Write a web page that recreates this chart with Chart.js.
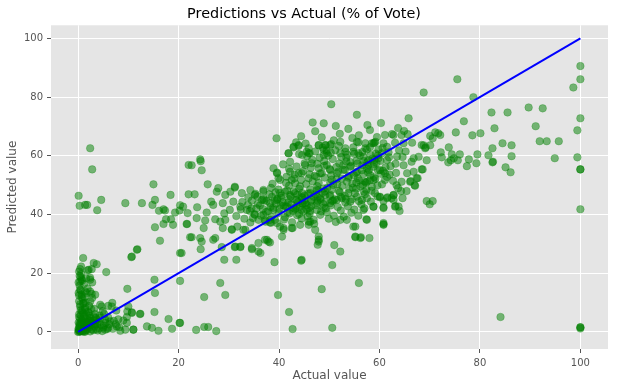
<!DOCTYPE html>
<html>
<head>
<meta charset="utf-8">
<script src="https://cdn.jsdelivr.net/npm/chart.js@4.4.0/dist/chart.umd.min.js"></script>
<style>
  html, body { margin: 0; padding: 0; background: #fff; }
  #wrap { width: 618px; height: 391px; }
</style>
</head>
<body>
<div id="wrap"><canvas id="chart" width="618" height="391"></canvas></div>
<script>
const actualValues = [
  // lado direito
  100, 100, 98.6, 75.5, 68.8, 78.7, 100, 99.4, 99.4, 100,
  100, 100, 100, 100, 100, 84.1, 89.7, 92.5, 82.3, 85.5,
  76.8, 65.8, 91.1, 82.9, 75.2, 78.5, 80.1, 91.9, 93.3, 95.7,
  84.5, 86.3, 82.5, 73.8, 72.2, 74.4, 76, 72.4, 79.5, 81.7,
  86.3, 94.9, 74.2, 74.8, 75.6, 73.7, 77.8, 79.3, 77.4, 82.5,
  85.1, 86.1, 69.4, 68.6, 67.6, 66.2, 67, 69.4, 70, 70.6,
  60.8, 64.6, 63.2, 64, 62.8, 65.4, 64.3, 60.8, 60.8, 61.6,
  63.4, 71.1, 71.7, 70.1, 70.6, 68.8, 69.2, 70.1, 72.1, 82.6,
  // 55-70
  61.1, 62.8, 64.4, 65.6, 59, 60.8, 63.1, 64.8, 68.4, 69.1,
  66.8, 67.8, 66.4, 68.4, 66.8, 67.4, 66.1, 67.1, 64.4, 63.7,
  62.8, 62.4, 60.1, 59.1, 58.5, 58.8, 63.1, 63.7, 64.9, 62.5,
  58.1, 59.5, 55.9, 57.6, 60.3, 66.5, 65.2, 63.5, 61.8, 60.2,
  62.2, 64.8, 63.3, 61.5, 59.7, 58.2, 57.5, 60.5, 62.7, 65.5,
  59.3, 57.8, 56.6, 58.9, 61.2, 57.2, 56.1, 55.4, 60.6, 63.9,
  // parte de cima do meio
  50.4, 46.7, 48.9, 39.5, 44.4, 43.4, 42.9, 43.9, 48.5, 47.9,
  49.3, 50.4, 45.9, 45.5, 41.9, 44, 46.1, 48.9, 49.5, 53.2,
  55.8, 54.8, 57.5, 58.5, 59.2, 59.8, 24.3, 55.5, 53.8, 52.1,
  51.3, 54.6, 50.9, 47.2, 45.3,
  // esquerda do meio
  22.6, 24.4, 24.6, 25.8, 27.9, 27.6, 22, 23.2, 20.3, 20.9,
  23.7, 21.8, 25.6, 26.5, 26.9, 28.8, 30.3, 31.2, 29.3, 21.6,
  25, 23.6, 25.3, 27.3, 28.3, 29.3, 28.8, 30.6, 31.7, 32.9,
  34.3, 34.8, 35.9, 37.3, 38.2, 39.2, 40.2, 40.9, 40.6, 42.7,
  44.2, 45.9, 46.2, 47.2, 47.9, 47.7, 51, 54.8, 55.2, 56.3,
  58, 57.4, 60.8, 60.8, 60.1, 62.8, 63.8, 24.3, 24.6, 24.4,
  26.9, 27.3, 22.6, 28.6, 31.2, 32.3, 34.6, 35.9, 36.3, 37.6,
  38.2, 29.1, 31.5, 39.1, 44.4, 50.6, 20.3, 20.3, 28.3, 29.3,
  25.1, 39.8, 42, 42.7, 50.6, 55.9, 48.5, 20.3, 23.5, 25.1,
  25.9, 27.5,
  // nucleo denso
  42.9, 43.9, 47.9, 49.2, 50.2, 52.2, 55.5, 57.2, 58.8, 61.5,
  41.9, 42.2, 44.6, 45.9, 45.2, 46.5, 48.9, 49.5, 52.2, 53.2,
  54.8, 55.8, 56.8, 58.2, 59.8, 61.5, 38.9, 39.6, 39.9, 42.2,
  42.5, 43.9, 44.5, 47.9, 48.2, 47.5, 49.5, 50.2, 51.5, 52.8,
  54.2, 55.5, 57.5, 58.8, 60.1, 61.1, 57.1, 58.8, 61.1, 31.2,
  32.6, 34.3, 35.2, 36.9, 36.6, 38.6, 38.2, 39.6, 40.2, 41.2,
  42.2, 43.2, 43.5, 44.5, 41.6, 42.9, 44.5, 45.5, 46.5, 46.2,
  47.5, 48.2, 49.2, 50.2, 50.2, 51.5, 52.5, 53.8, 54.2, 55.5,
  56.5, 57.5, 56.8, 58.8, 61.5, 30.9, 32.3, 33.6, 35.2, 36.9,
  38.2, 39.6, 33.3, 37.2, 37.9, 40.9, 42.5, 45.9, 47.9, 47.9,
  52.2, 53.5, 55.2, 55.2, 56.2, 57.5, 60.8, 30.6, 31.3, 32.3,
  34.6, 35.9, 44.5, 52.2,
  36.2, 37.5, 38.8, 39.4, 40.1, 40.7, 41.3, 41.9, 42.4, 42.8,
  43.3, 43.7, 44.1, 44.6, 45.2, 45.8, 46.3, 46.9, 47.4, 47.8,
  48.3, 48.7, 49.2, 49.6, 50.1, 50.5, 51.1, 51.6, 52.1, 52.6,
  53.1, 53.5, 54, 54.6, 55.1, 55.7, 56.2, 56.8, 57.3, 57.9,
  35.1, 36.4, 37.8, 38.5, 39.9, 41.2, 42.1, 43.6, 44.9, 46.1,
  47.5, 48.9, 50.3, 51.7, 53.2, 54.5, 55.9, 57.1, 58.4, 59.6,
  33.8, 34.6, 35.7, 36.9, 38.1, 39.3, 40.5, 41.6, 42.9, 44.2,
  45.4, 46.7, 47.9, 49.1, 50.4, 51.8, 53.1, 54.3, 55.6, 56.9,
  38.7, 40.2, 41.5, 43.1, 44.8, 46.3, 47.6, 49, 50.7, 52.4,
  53.6, 51.2, 49.8, 48.1, 46.6, 45.1, 43.5, 42, 40.8, 39.6,
  32.4, 31.5, 30.2, 29.1, 33.1, 34.2, 35.5, 36.8, 37.2, 38.4,
  44.5, 45.7, 46.9, 48.2, 49.5, 50.9, 52.3, 53.7, 55, 56.4,
  52.5, 53.9, 55.3, 56.5, 57.8, 58.6, 59.4, 58.1, 56.7, 55.4,
  54.2, 52.8, 51.4, 50.1, 48.5, 47.1, 45.9, 44.4, 43.2, 42,
  34.5, 35.8, 37.1, 38.3, 39.7, 40.9, 42.3, 43.8, 45.1, 46.4,
  47.7, 49.1, 50.6, 51.9, 53.3, 54.7, 56, 57.4, 58.9, 60.3,
  39.1, 40.4, 41.8, 43.4, 44.7, 46, 47.3, 48.8, 50.2, 51.5,
  41, 42.6, 44, 45.5, 47, 48.4, 49.9, 51.3, 52.9, 54.4,
  55.8, 57, 58.3, 59.6, 54.9, 53.4, 52, 50.5, 49, 47.6,
  46.1, 44.6, 43, 41.4, 39.9, 38.4, 36.9, 35.3, 33.9, 32.7,
  45.6, 47.2, 48.7, 50.3, 51.9, 53.4, 55, 56.6, 58.1, 59.7,
  44, 45, 46.2, 47.6, 48.9, 50.8, 52.3, 53.8, 55.4, 56.9,
  37.4, 38.9, 40.3, 41.7, 43.2, 44.7, 46.2, 47.7, 49.3, 50.8,
  57.6, 59, 60.5, 61.9, 63.2, 64.6, 62, 60.7, 59.2, 57.7,
  // extremo esquerdo
  2.4, 2.8, 0.1, 0.3, 1.4, 1.8, 4.6, 3.8, 9.4, 12.7,
  14.8, 15.3, 15, 18.4, 22, 16.1, 17, 17.3, 15.3, 16.3,
  17.5, 18.5, 17, 18.9, 19.3, 20.2, 21.7, 22.3, 20.6, 10.6,
  11.8, 9.8, 15.2, 15.3, 15.2, 18, 20.2, 18.7, 16, 1,
  3.1, 3.7, 2.7, 2.1, 0.4, 0.5, 0.7, 0.4, 2.4, 2.8,
  5.6, 4.4, 4.7, 6, 6.8, 7.6, 9.8, 10.7, 12.3, 9,
  9.7, 7.7, 8.4, 9.4, 11, 6, 5.4, 0.4, 0.7, 0.1,
  1.7, 2.7, 2.8, 2.4, 1.1, 0.4, 1.4, 2.1, 3.4, 2.4,
  3.7, 4.4, 5.4, 6.4, 0.2, 1.9, 10.7, 11.7, 2.4, 13.7,
  14.7, 1.4, 2.4, 3.4, 6.7, 10, 10.7, 12.4, 9.7, 11,
  // perto da origem
  0, 0.2, 0.5, 0.8, 1, 1.3, 0.3, 0.6, 1.8, 2.2,
  0.1, 0.9, 1.6, 2.5, 3, 3.3, 0.4, 1.2, 2, 2.7,
  3.8, 4.2, 4.8, 0.2, 0.8, 1.5, 3.1, 4, 5.1, 5.8,
  0.6, 1.1, 1.9, 0.3, 0.7, 2.4, 3.6, 1.4, 0.1, 2.9,
  0.5, 0.2, 0.9, 1.5, 0.3, 1.2, 0.6, 1.9, 0.2, 0.4,
  0.1, 0.3, 0.6, 0.9, 1.2, 1.5, 1.8, 2.1, 2.4, 2.7,
  3, 3.4, 3.9, 4.5, 5, 5.5, 6.2, 6.9, 7.5, 8.2,
  0.2, 0.5, 0.8, 1.1, 1.4, 1.7, 2, 2.3, 2.6, 0.4,
  0.7, 1, 0.2, 0.5, 1.3, 0.1, 0.8, 0.3, 1.6, 0.6,
  3.5, 4.3, 5.2, 6, 7.1, 8, 4.9, 3.2, 2.2, 1.2
];
const predictedValues = [
  // lado direito
  90.6, 86.1, 83.3, 86.1, 81.6, 80, 72.8, 68.7, 59.5, 55.4,
  55.4, 41.8, 1.6, 1.6, 1.2, 5.1, 76.5, 76.2, 74.8, 74.8,
  71.8, 72.8, 70.1, 69.4, 68, 67, 67.7, 65, 65, 65,
  64.3, 63.6, 62.6, 62.9, 61.2, 60.5, 60.5, 59.5, 60.5, 60.2,
  59.9, 59.2, 58.5, 59.2, 58.5, 57.8, 58.8, 57.5, 56.5, 57.8,
  56.1, 54.4, 58.5, 55.4, 52.4, 51.4, 50, 44.6, 43.5, 44.6,
  36.7, 45.6, 42.9, 41.2, 46.6, 48, 48, 44.6, 42.5, 45.9,
  50, 68, 67.7, 66.8, 66, 63.6, 62.9, 63.6, 67.1, 58,
  // 55-70
  67.1, 67.1, 67.1, 67.4, 64.5, 64.3, 64.5, 64.3, 63.7, 62.6,
  59.2, 59.7, 58, 55.4, 54.6, 52.4, 51.2, 49.8, 51.2, 49,
  46.7, 45.6, 46.1, 47.3, 49.5, 42.7, 42.7, 69.5, 68.5, 67.4,
  68.8, 66.4, 67, 70.5, 71.2, 64.5, 61.5, 59.8, 61.2, 58.3,
  56.5, 56.8, 54.2, 52.8, 55.1, 53.4, 51.2, 50.3, 51.5, 54.1,
  60.8, 58.5, 56.8, 57.2, 56.1, 62.6, 60.1, 58.3, 62.7, 61.9,
  // parte de cima do meio
  77.6, 71.4, 71.1, 66, 66.7, 64.6, 62.9, 63.4, 66.3, 63.6,
  63.6, 64, 62.6, 61.4, 60.9, 60.6, 60.9, 62, 61.8, 62.6,
  64.6, 62.9, 62.2, 64.3, 64.8, 62.2, 58.8, 74, 69.2, 67.5,
  70.2, 66.1, 65.3, 68.4, 64.2,
  // esquerda do meio
  56.8, 58.2, 55.1, 50.3, 49, 47.8, 46.9, 46.9, 43.2, 42.7,
  42.5, 40.5, 40.7, 44.4, 43.3, 43.9, 47.8, 49.2, 46.7, 36.8,
  35.4, 38.8, 38, 38.4, 37.6, 38.2, 35.4, 35, 35.9, 34.8,
  37.3, 38.8, 38.2, 37.6, 37.3, 38.2, 35.9, 34.8, 32.5, 35.4,
  36.5, 36.5, 37.6, 34.8, 31.4, 29.7, 29.6, 35.9, 32.3, 32.3,
  32, 38.4, 42.2, 36.5, 45.9, 45, 42.7, 32, 30.8, 28.2,
  31.4, 32, 32.3, 28.9, 28.9, 28.9, 28.2, 30.3, 26.9, 31.4,
  30.5, 24.6, 24.6, 23.8, 24.3, 22.8, 26.9, 17.4, 16.7, 12.6,
  11.9, 12.6, 6.8, 1, 1.4, 16.7, 14.6, 3.1, 0.7, 1.7,
  1.7, 0.3,
  // nucleo denso
  63.1, 63.7, 63.7, 63.7, 63.7, 64.8, 64.8, 64.3, 64.3, 63.1,
  60.9, 58, 60.3, 60.9, 56.9, 57.5, 60.3, 60.9, 60.9, 61.4,
  61.4, 60.9, 59.7, 60.3, 59.2, 58.6, 55.8, 54.1, 52.4, 54.6,
  51.8, 54.1, 54.1, 55.8, 54.1, 52.9, 56.9, 55.2, 54.1, 55.2,
  56.3, 54.6, 55.8, 56.3, 55.2, 54.1, 51.2, 51.8, 51.8, 49.5,
  47.3, 48.4, 46.7, 48.4, 45, 46.1, 43.9, 45, 47.3, 47.8,
  46.7, 47.3, 45, 46.1, 42.7, 42.2, 41.6, 43.3, 45, 47.3,
  48.4, 45.6, 46.7, 46.7, 43.9, 45, 45.6, 47.3, 44.4, 46.1,
  45, 45.6, 41.6, 42.7, 45.6, 44.4, 42.7, 41.6, 39.9, 39.9,
  38.2, 37.1, 34.8, 31.4, 30.8, 35.4, 35.4, 37.6, 32.5, 30.8,
  38.2, 38.2, 35.9, 32.5, 32, 38.2, 37.1, 34.8, 29.1, 29.1,
  28.6, 27.4, 24.6, 27.4,
  43.1, 44.6, 42.3, 43.8, 41.9, 44.2, 42.8, 45.3, 43.5, 41.2,
  44.9, 46.8, 42.6, 45.7, 43.9, 47.2, 44.5, 46.1, 43.2, 48.3,
  45.1, 47.4, 44.2, 49.1, 46.3, 48.5, 45.2, 50.3, 47.6, 49.8,
  46.4, 51.2, 48.7, 50.6, 47.3, 52.4, 49.6, 53.8, 50.9, 55.2,
  40.2, 39.6, 41.1, 39.2, 40.5, 39.1, 40.4, 39.8, 41.1, 40.3,
  41.6, 42.4, 43.1, 42.6, 44.1, 45.2, 44.6, 46.9, 48.1, 49.9,
  43.3, 44.8, 46.2, 45.4, 46.9, 47.6, 46.5, 48.2, 47.9, 49.6,
  50.4, 51.3, 50.8, 52.6, 53.4, 54.7, 55.3, 56.6, 57.4, 58.2,
  50.5, 51.8, 52.9, 53.6, 54.8, 55.9, 57.3, 58.2, 58.9, 59.6,
  60.4, 61.9, 60.1, 59.4, 58.7, 57.5, 56.4, 55.6, 57.1, 54.3,
  41.8, 39.5, 41.6, 40.4, 38.6, 41.2, 42.1, 41.9, 38.1, 37.2,
  38.7, 39.4, 38.2, 39.9, 40.8, 39.6, 41.4, 42.8, 41.7, 43.5,
  52.3, 53.1, 54.2, 55.1, 56.9, 59.1, 57.6, 51.7, 50.2, 48.8,
  57.9, 56.9, 56.2, 55.5, 54.1, 53.2, 52.4, 51.8, 50.7, 49.9,
  42.1, 43.7, 44.9, 42.6, 45.4, 43.1, 46.2, 44.3, 46.5, 42.8,
  44.7, 47.9, 44.6, 48.1, 45.3, 49.2, 51.6, 48.4, 52.7, 53.9,
  44.9, 45.7, 44.1, 42.3, 43.7, 42.2, 46.9, 43.6, 50.9, 52.1,
  38.3, 37.4, 40.2, 41.8, 36.9, 41.1, 38.6, 37.5, 39.3, 40.6,
  39.6, 42.1, 44.4, 46.2, 53.4, 58.1, 57.4, 51.9, 56.6, 49.7,
  53.7, 47.3, 52.3, 50.8, 48.5, 49.1, 47.9, 47.1, 45.9, 44.3,
  59.9, 61.5, 62.8, 61.1, 63.4, 59.4, 60.7, 61.3, 62.9, 60.2,
  48.8, 44.9, 48.6, 44.1, 48.9, 50.1, 46.1, 52.6, 50.9, 47.8,
  40.9, 41.6, 43.1, 40.7, 41.9, 43.8, 41.2, 45.8, 42.1, 44.8,
  57.8, 58.7, 60.9, 59.5, 57.3, 59.6, 53.6, 54.9, 52.2, 54.4,
  // extremo esquerdo
  62.6, 55.4, 46.4, 43, 43.3, 43.3, 45, 41.5, 43.9, 43.9,
  43.3, 45, 50.3, 46.7, 56.9, 41.3, 41.8, 41.4, 35.7, 31.1,
  38.4, 38.4, 36.8, 36.5, 40.7, 41.4, 36.8, 32.3, 26.9, 25.5,
  28.2, 14.7, 17.8, 13.3, 6.8, 4.4, 3.1, 1.1, 0.4, 25.2,
  23.5, 23.1, 21.4, 21.2, 21.4, 18.7, 18, 17.2, 18.5, 16.9,
  20.4, 9.3, 8.7, 8.9, 9.9, 7.3, 7, 6.5, 6.1, 3.9,
  5.1, 1.9, 0.4, 0.8, 0.8, 1.4, 0.8, 14.4, 12.7, 13.3,
  13.3, 13, 11.6, 10.4, 9.9, 8.7, 7.6, 6.5, 6.1, 4.8,
  4.2, 4.8, 4.2, 3.6, 20.6, 21, 25.7, 28, 17.8, 1.9,
  1.4, 13.8, 13.8, 12.7, 8.7, 8.7, 6.7, 6.2, 3.1, 0.8,
  // perto da origem
  0, 0.5, 0.2, 1, 0.4, 1.6, 1.8, 2.6, 0.8, 1.5,
  3.2, 3.7, 2.9, 2.4, 0.6, 1.9, 4.5, 5.3, 4, 3.3,
  2.8, 1.2, 0.3, 6, 6.8, 4.6, 5.2, 3.5, 2.2, 1,
  0.9, 2.2, 3.1, 2.9, 4.1, 0.2, 0.9, 0.1, 1.2, 2.7,
  7.5, 10.5, 11.2, 10, 15.8, 16.4, 19.8, 14.8, 0.1, 0.3,
  0.8, 2.3, 3.4, 0.2, 3, 0.7, 2.4, 2.9, 3.8, 0.9,
  3.9, 2.6, 0.5, 2.5, 1.5, 3.1, 2.6, 1.1, 2.7, 1.6,
  5.1, 5.8, 7.4, 6.3, 8.2, 5.7, 6.9, 5.5, 7.8, 9.4,
  11.8, 9.7, 12.5, 14.2, 12, 16.9, 17.5, 19.1, 18.3, 22.3,
  4.8, 5.6, 6.1, 4.9, 3.8, 4.3, 7.1, 7.9, 8.9, 0.1
];
const tickValues = [0, 20, 40, 60, 80, 100];
const diagonalEnds = [0, 100];

if (actualValues.length !== predictedValues.length) console.warn("tamanhos diferentes", actualValues.length, predictedValues.length);

const pontos = actualValues.map((x, i) => ({ x: x, y: predictedValues[i] }));
const diagonal = diagonalEnds.map(v => ({ x: v, y: v }));

// fundo cinza estilo ggplot so na area do grafico
const fundoCinza = {
  id: 'fundoCinza',
  beforeDraw(chart) {
    const { ctx, chartArea: a } = chart;
    ctx.save();
    ctx.fillStyle = '#e5e5e5';
    ctx.fillRect(a.left, a.top, a.right - a.left, a.bottom - a.top);
    ctx.restore();
  }
};

Chart.defaults.font.family = "'DejaVu Sans', sans-serif";

const eixo = (titulo, min, max) => ({
  type: 'linear',
  min: min,
  max: max,
  afterBuildTicks: s => { s.ticks = tickValues.map(v => ({ value: v })); },
  grid: { color: '#ffffff', lineWidth: 1, tickColor: '#555555', tickLength: 4, tickWidth: 1 },
  border: { display: false },
  ticks: { color: '#555555', font: { size: 10 }, padding: 4, maxRotation: 0 },
  title: { display: true, text: titulo, color: '#555555', font: { size: 12 } }
});

const xScale = eixo('Actual value', -5.4, 105.5);
xScale.afterFit = s => { s.height = 42; };
xScale.title.padding = { top: 0, bottom: 8 };

const yScale = eixo('Predicted value', -5.8, 104.5);
yScale.afterFit = s => { s.width = 51; };
yScale.title.padding = { top: 6, bottom: 0 };

new Chart(document.getElementById('chart').getContext('2d'), {
  type: 'scatter',
  data: {
    datasets: [
      {
        type: 'line',
        label: 'ideal',
        data: diagonal,
        borderColor: '#0000ff',
        borderWidth: 2,
        pointRadius: 0,
        fill: false,
        order: 0
      },
      {
        label: 'pontos',
        data: pontos,
        backgroundColor: 'rgba(0, 128, 0, 0.5)',
        borderColor: 'rgba(0, 128, 0, 0.25)',
        borderWidth: 1,
        pointRadius: 3.8,
        order: 1
      }
    ]
  },
  options: {
    responsive: false,
    devicePixelRatio: 1,
    animation: false,
    layout: { padding: { left: 0, right: 10, top: 0, bottom: 0 } },
    plugins: {
      legend: { display: false },
      tooltip: { enabled: false },
      title: {
        display: true,
        text: 'Predictions vs Actual (% of Vote)',
        color: '#000000',
        font: { size: 14.4, weight: 'normal' },
        padding: { top: 6, bottom: 2 }
      }
    },
    scales: { x: xScale, y: yScale }
  },
  plugins: [fundoCinza]
});
</script>
</body>
</html>
